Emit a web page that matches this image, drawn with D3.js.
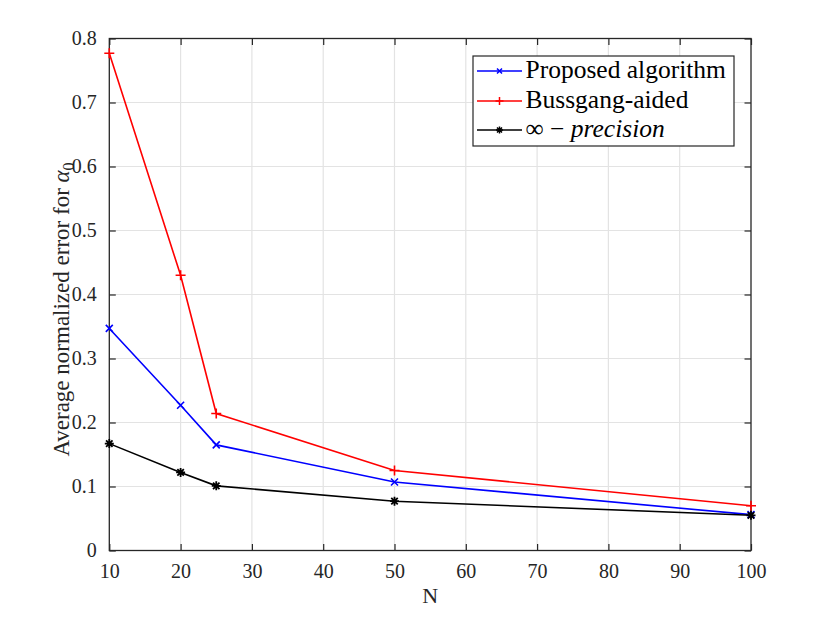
<!DOCTYPE html>
<html>
<head>
<meta charset="utf-8">
<script src="https://cdn.jsdelivr.net/npm/d3@7"></script>
<style>
  body { margin: 0; background: #fff; }
  svg { display: block; }
</style>
</head>
<body>
<div id="chart"></div>
<script>
var width = 830;
var height = 619;
var margin = {top: 38.5, right: 79, bottom: 68.5, left: 109.3};

var nValues = [10, 20, 25, 50, 100];
var proposed = [0.347, 0.227, 0.165, 0.107, 0.056];
var bussgang = [0.777, 0.430, 0.214, 0.125, 0.070];
var infPrecision = [0.167, 0.122, 0.101, 0.077, 0.055];
var xTicks = [10, 20, 30, 40, 50, 60, 70, 80, 90, 100];
var yTicks = [0, 0.1, 0.2, 0.3, 0.4, 0.5, 0.6, 0.7, 0.8];

var series = [
    {name: "Proposed algorithm", values: proposed, color: "#0000ff", marker: "x"},
    {name: "Bussgang-aided", values: bussgang, color: "#ff0000", marker: "plus"},
    {name: "inf", values: infPrecision, color: "#000000", marker: "star"}
];

var fontFamily = "'Liberation Serif', 'DejaVu Serif', serif";
var axisColor = "#262626";

var svg = d3.select("#chart")
            .append("svg")
            .attr("width", width)
            .attr("height", height)
            .style("font-family", fontFamily);

var iw = width - margin.left - margin.right;
var ih = height - margin.top - margin.bottom;

var x = d3.scaleLinear().domain([10, 100]).range([margin.left, margin.left + iw]);
var y = d3.scaleLinear().domain([0, 0.8]).range([margin.top + ih, margin.top]);

// griglia
var grid = svg.append("g")
              .attr("stroke", "#e3e3e3")
              .attr("stroke-width", 1.2);

grid.selectAll("line.vx")
    .data(xTicks.slice(1, -1))
    .enter()
    .append("line")
    .attr("x1", d => x(d)).attr("x2", d => x(d))
    .attr("y1", margin.top).attr("y2", margin.top + ih);

grid.selectAll("line.hy")
    .data(yTicks.slice(1, -1))
    .enter()
    .append("line")
    .attr("x1", margin.left).attr("x2", margin.left + iw)
    .attr("y1", d => y(d)).attr("y2", d => y(d));

// assi con tacche interne su tutti i lati
var tickLen = 6.5;
var fmt = d => d === 0 ? "0" : d3.format(".1f")(d);

var axBottom = svg.append("g")
                  .attr("transform", `translate(0,${margin.top + ih})`)
                  .call(d3.axisBottom(x).tickValues(xTicks).tickSize(-tickLen).tickPadding(tickLen + 7).tickFormat(d3.format("d")));
var axTop = svg.append("g")
               .attr("transform", `translate(0,${margin.top})`)
               .call(d3.axisTop(x).tickValues(xTicks).tickSize(-tickLen).tickFormat(""));
var axLeft = svg.append("g")
                .attr("transform", `translate(${margin.left},0)`)
                .call(d3.axisLeft(y).tickValues(yTicks).tickSize(-tickLen).tickPadding(tickLen + 6).tickFormat(fmt));
var axRight = svg.append("g")
                 .attr("transform", `translate(${margin.left + iw},0)`)
                 .call(d3.axisRight(y).tickValues(yTicks).tickSize(-tickLen).tickFormat(""));

[axBottom, axTop, axLeft, axRight].forEach(function(a) {
    a.attr("font-family", null);
    a.select(".domain").remove();
    a.selectAll("line").attr("stroke", axisColor).attr("stroke-width", 1.2);
    a.selectAll("text")
     .attr("fill", axisColor)
     .style("font-family", fontFamily)
     .style("font-size", "20px");
});

svg.append("rect")
   .attr("x", margin.left).attr("y", margin.top)
   .attr("width", iw).attr("height", ih)
   .attr("fill", "none")
   .attr("stroke", axisColor)
   .attr("stroke-width", 1.3);

// titoli assi
svg.append("text")
   .attr("x", margin.left + iw / 2)
   .attr("y", 603)
   .attr("text-anchor", "middle")
   .attr("fill", axisColor)
   .style("font-size", "22px")
   .text("N");

var yLabel = svg.append("text")
                .attr("transform", `translate(69,${margin.top + ih / 2 + 15}) rotate(-90)`)
                .attr("text-anchor", "middle")
                .attr("fill", axisColor)
                .style("font-size", "23px");
yLabel.append("tspan").text("Average normalized error for ");
yLabel.append("tspan").style("font-style", "italic").text("α");
yLabel.append("tspan").attr("dy", 5).style("font-size", "16px").text("0");

// marcatori
function drawMarker(g, type, size) {
    var s = size / 2;
    if (type === "x") {
        g.append("path").attr("d", `M${-s},${-s}L${s},${s}M${-s},${s}L${s},${-s}`);
    } else if (type === "plus") {
        g.append("path").attr("d", `M${-s},0L${s},0M0,${-s}L0,${s}`);
    } else {
        var d = s * 0.72;
        g.append("path").attr("d", `M${-s},0L${s},0M0,${-s}L0,${s}M${-d},${-d}L${d},${d}M${-d},${d}L${d},${-d}`);
    }
}

var markerSize = {x: 7, plus: 10, star: 9};

var line = d3.line()
             .x((d, i) => x(nValues[i]))
             .y(d => y(d));

series.forEach(function(s) {
    svg.append("path")
       .datum(s.values)
       .attr("fill", "none")
       .attr("stroke", s.color)
       .attr("stroke-width", 1.6)
       .attr("d", line);

    s.values.forEach(function(v, i) {
        var g = svg.append("g")
                   .attr("transform", `translate(${x(nValues[i])},${y(v)})`)
                   .attr("stroke", s.color)
                   .attr("stroke-width", s.marker === "star" ? 1.8 : 1.6)
                   .attr("fill", "none");
        drawMarker(g, s.marker, markerSize[s.marker]);
    });
});

// legenda
var legend = svg.append("g");
legend.append("rect")
      .attr("x", 473).attr("y", 56)
      .attr("width", 261).attr("height", 90)
      .attr("fill", "#fff")
      .attr("stroke", axisColor)
      .attr("stroke-width", 1.2);

var rowY = [71, 101, 130];
series.forEach(function(s, i) {
    var row = legend.append("g").attr("transform", `translate(0,${rowY[i]})`);
    row.append("line")
       .attr("x1", 477).attr("x2", 522)
       .attr("stroke", s.color)
       .attr("stroke-width", 1.5);
    var g = row.append("g")
               .attr("transform", "translate(499.5,0)")
               .attr("stroke", s.color)
               .attr("stroke-width", 1.5)
               .attr("fill", "none");
    drawMarker(g, s.marker, markerSize[s.marker] - 2);

    var t = row.append("text")
               .attr("x", 525.5)
               .attr("y", 7)
               .attr("fill", "#000")
               .style("font-size", "25.5px");
    if (s.name === "inf") {
        t.append("tspan").text("∞ − ");
        t.append("tspan").style("font-style", "italic").text("precision");
    } else {
        t.text(s.name);
    }
});
</script>
</body>
</html>
